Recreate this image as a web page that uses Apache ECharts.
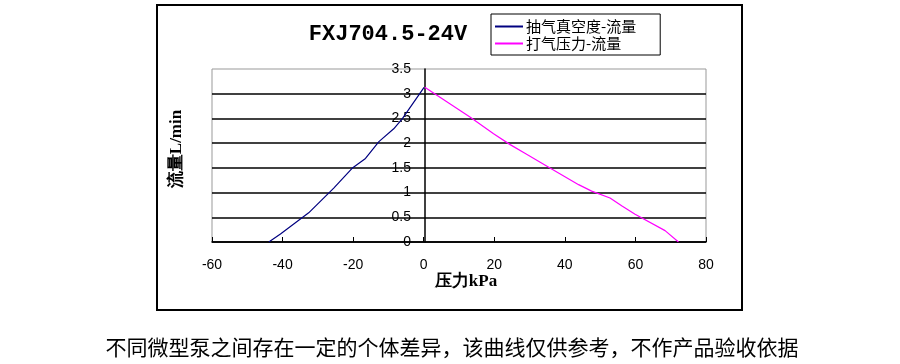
<!DOCTYPE html>
<html>
<head>
<meta charset="utf-8">
<script src="https://cdn.jsdelivr.net/npm/echarts@6/dist/echarts.min.js"></script>
<style>html,body{margin:0;padding:0;background:#fff;}#c{width:900px;height:364px;}</style>
</head>
<body>
<div id="c"></div>
<script>
const titleText = 'FXJ704.5-24V';
const seriesNames = ['抽气真空度-流量', '打气压力-流量'];
const xAxisName = '压力kPa';
const yAxisName = '流量L/min';
const footnote = '不同微型泵之间存在一定的个体差异，该曲线仅供参考，不作产品验收依据';
// vacuum (negative pressure) vs flow
const vacuumX = [-43.9, -40.6, -32.6, -25.5, -20.3, -16.5, -12.7, -8.5, -6.1, 0.1];
const vacuumY = [0, 0.16, 0.59, 1.09, 1.49, 1.69, 2.03, 2.29, 2.49, 3.13];
// pressure vs flow
const pressX = [0.3, 13.1, 19.8, 24.5, 28.8, 35.9, 43.9, 47.6, 52.8, 56.2, 59.9, 68.4, 72.2];
const pressY = [3.13, 2.53, 2.19, 1.97, 1.79, 1.49, 1.16, 1.03, 0.89, 0.73, 0.56, 0.23, 0];

const chart = echarts.init(document.getElementById('c'), null, {renderer: 'canvas'});
const toPairs = (xs, ys) => xs.map((x, i) => [x, ys[i]]);
const labelFont = {fontFamily: 'Liberation Sans', fontSize: 14, color: '#000'};
chart.setOption({
  backgroundColor: '#fff',
  animation: false,
  title: {
    text: titleText, left: 383, top: 18, textAlign: 'center',
    textStyle: {fontFamily: 'Liberation Mono', fontWeight: 'bold', fontSize: 22, color: '#000'}
  },
  legend: {
    orient: 'vertical', left: 491, top: 14,
    borderColor: '#000', borderWidth: 1, backgroundColor: '#fff',
    padding: [4, 24, 3, 4], itemGap: 0,
    icon: 'rect', itemWidth: 28, itemHeight: 2,
    textStyle: {fontFamily: 'Noto Sans CJK SC', fontSize: 15, lineHeight: 17, color: '#000', padding: [0, 0, 0, -2]},
    data: seriesNames
  },
  grid: {
    left: 212, top: 69, width: 494, height: 173,
    show: true, borderColor: '#999', borderWidth: 1, backgroundColor: '#fff'
  },
  xAxis: {
    type: 'value', min: -60, max: 80, interval: 20,
    axisLine: {onZero: false, lineStyle: {color: '#000', width: 1.5}},
    axisTick: {show: true, inside: true, length: 5, lineStyle: {color: '#000'}},
    axisLabel: Object.assign({margin: 16}, labelFont),
    splitLine: {show: false}
  },
  yAxis: {
    type: 'value', min: 0, max: 3.5, interval: 0.5,
    offset: -213,
    axisLine: {show: true, onZero: false, lineStyle: {color: '#000', width: 1.5}},
    axisTick: {show: false},
    axisLabel: Object.assign({margin: 14}, labelFont),
    splitLine: {show: true, showMaxLine: false, lineStyle: {color: '#000', width: 1.5}}
  },
  series: [
    {
      name: seriesNames[0], type: 'line', data: toPairs(vacuumX, vacuumY),
      showSymbol: false, symbol: 'none', color: '#000080',
      lineStyle: {color: '#000080', width: 1.2}, z: 3
    },
    {
      name: seriesNames[1], type: 'line', data: toPairs(pressX, pressY),
      showSymbol: false, symbol: 'none', color: '#ff00ff',
      lineStyle: {color: '#ff00ff', width: 1.2}, z: 3
    }
  ],
  graphic: [
    {type: 'rect', shape: {x: 157, y: 5, width: 585, height: 305},
     style: {fill: null, stroke: '#000', lineWidth: 2}, silent: true, z: -1},
    {type: 'text', x: 177, y: 149, rotation: Math.PI / 2, silent: true,
     style: {text: yAxisName, fontFamily: 'Liberation Serif', fontWeight: 'bold', fontSize: 17,
             fill: '#000', align: 'center', verticalAlign: 'middle'}},
    {type: 'text', x: 466, y: 282, silent: true,
     style: {text: xAxisName, fontFamily: 'Liberation Serif', fontWeight: 'bold', fontSize: 17,
             fill: '#000', align: 'center', verticalAlign: 'middle'}},
    {type: 'text', x: 452, y: 347, silent: true,
     style: {text: footnote, fontFamily: 'Noto Sans CJK SC', fontSize: 21,
             fill: '#000', align: 'center', verticalAlign: 'middle'}}
  ]
});
</script>
</body>
</html>
